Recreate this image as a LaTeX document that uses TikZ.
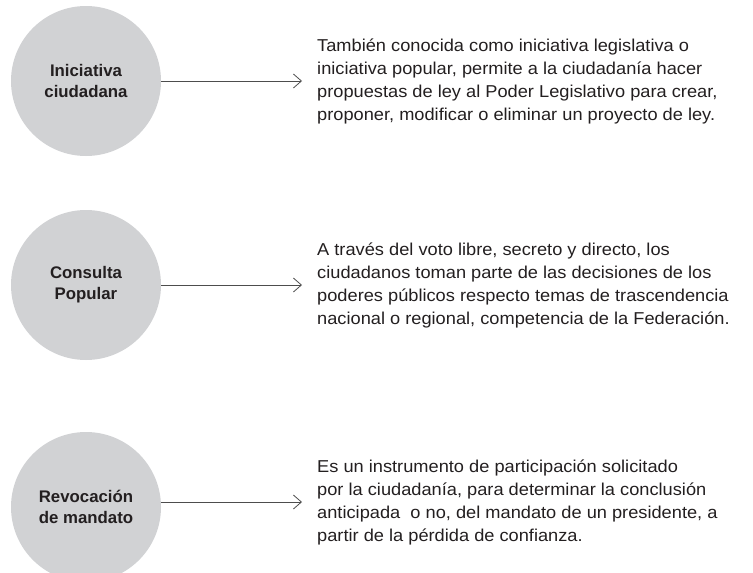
\documentclass[tikz,border=0pt]{standalone}
\usepackage{fontspec}
\setmainfont{Liberation Sans}
\newfontfamily\descfont{Liberation Sans}[FakeStretch=1.06]
\usetikzlibrary{arrows.meta}
\definecolor{circfill}{HTML}{D1D2D4}
\definecolor{txt}{HTML}{231F20}
\definecolor{arrcol}{HTML}{4D4D4D}
\tikzset{
  bubble/.style={circle, fill=circfill, minimum size=150pt, inner sep=0pt, align=center,
    text=txt, font=\fontsize{16.8pt}{21pt}\selectfont\bfseries},
  desc/.style={anchor=west, inner sep=0pt, align=left, text=txt,
    font=\descfont\fontsize{17.2pt}{23pt}\selectfont},
  conn/.style={draw=arrcol, line width=0.8pt, -{Straight Barb[length=8pt,width=14pt,line width=0.8pt]}}
}
\begin{document}
\begin{tikzpicture}[x=1pt,y=-1pt]
\useasboundingbox (0,0) rectangle (753,573);
\node[bubble] (c1) at (86,81) {Iniciativa\\ciudadana};
\node[bubble] (c2) at (86,285) {Consulta\\Popular};
\node[bubble] (c3) at (86,507) {Revocación\\de mandato};
\node[desc] (t1) at (317,81) {También conocida como iniciativa legislativa o\\iniciativa popular, permite a la ciudadanía hacer\\propuestas de ley al Poder Legislativo para crear,\\proponer, modificar o eliminar un proyecto de ley.};
\node[desc] (t2) at (317,285) {A través del voto libre, secreto y directo, los\\ciudadanos toman parte de las decisiones de los\\poderes públicos respecto temas de trascendencia\\nacional o regional, competencia de la Federación.};
\node[desc] (t3) at (317,502) {Es un instrumento de participación solicitado\\por la ciudadanía, para determinar la conclusión\\anticipada\ \ o no, del mandato de un presidente, a\\partir de la pérdida de confianza.};
\draw[conn] (c1.east) -- ([xshift=-15pt]t1.west);
\draw[conn] (c2.east) -- ([xshift=-15pt]t2.west);
\draw[conn] (c3.east |- t3.west) -- ([xshift=-15pt]t3.west);
\end{tikzpicture}
\end{document}
